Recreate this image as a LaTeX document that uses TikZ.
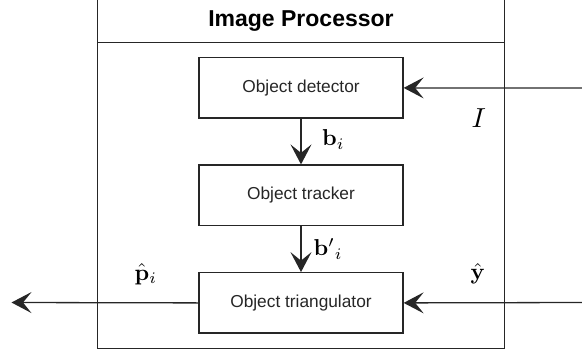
\documentclass[tikz,border=0pt]{standalone}
\usepackage[no-math]{fontspec}
\setmainfont{Liberation Sans}
\usetikzlibrary{arrows.meta}
\begin{document}
\begin{tikzpicture}[x=1pt,y=-1pt, line width=1.3pt, color=black!85,
  procbox/.style={draw, minimum width=204pt, minimum height=60.3pt, inner sep=0pt,
    font=\fontsize{17.3}{20}\selectfont},
  flow/.style={-{Stealth[length=20pt,width=21pt,inset=8.5pt]}},
  mlabel/.style={anchor=base west, inner sep=0pt, text=black}]
\useasboundingbox (0,0) rectangle (582,354);
% outer container
\draw[line width=1.4pt] (97.5,-10) rectangle (504.5,348.5);
\draw[line width=1.4pt] (97.5,42.3) -- (504.5,42.3);
\node[anchor=base, inner sep=0pt, text=black, font=\fontsize{23}{27}\selectfont\bfseries] (title) at (301,26.7) {Image Processor};
% boxes
\node[procbox] (det) at (301,87.9) {Object detector};
\node[procbox, minimum height=60.7pt] (trk) at (301,195.4) {Object tracker};
\node[procbox] (tri) at (301,302.9) {Object triangulator};
% labels
\node[mlabel] (lb) at (321.5,145.7) {\scalebox{2.3}{$\mathbf{b}_i$}};
\node[mlabel] (lbp) at (313,255.7) {\scalebox{2.3}{${\mathbf{b}'}_i$}};
\node[mlabel] (lI) at (471,127.3) {\scalebox{2.75}{$I$}};
\node[mlabel] (lp) at (134,280) {\scalebox{2.3}{$\hat{\mathbf{p}}_i$}};
\node[mlabel] (ly) at (470,279.5) {\scalebox{2.3}{$\hat{\mathbf{y}}$}};
% free ends
\coordinate (inI) at (582,88);
\coordinate (inY) at (582,302.5);
\coordinate (outP) at (11.5,302.5);
% connectors
\draw[flow] (det.south) -- (trk.north);
\draw[flow] (trk.south) -- (tri.north);
\draw[flow] (inY) -- (tri.east);
\draw[flow] (tri.west) -- (outP);
\draw[flow] (inI) -- (det.east);
\end{tikzpicture}
\end{document}
